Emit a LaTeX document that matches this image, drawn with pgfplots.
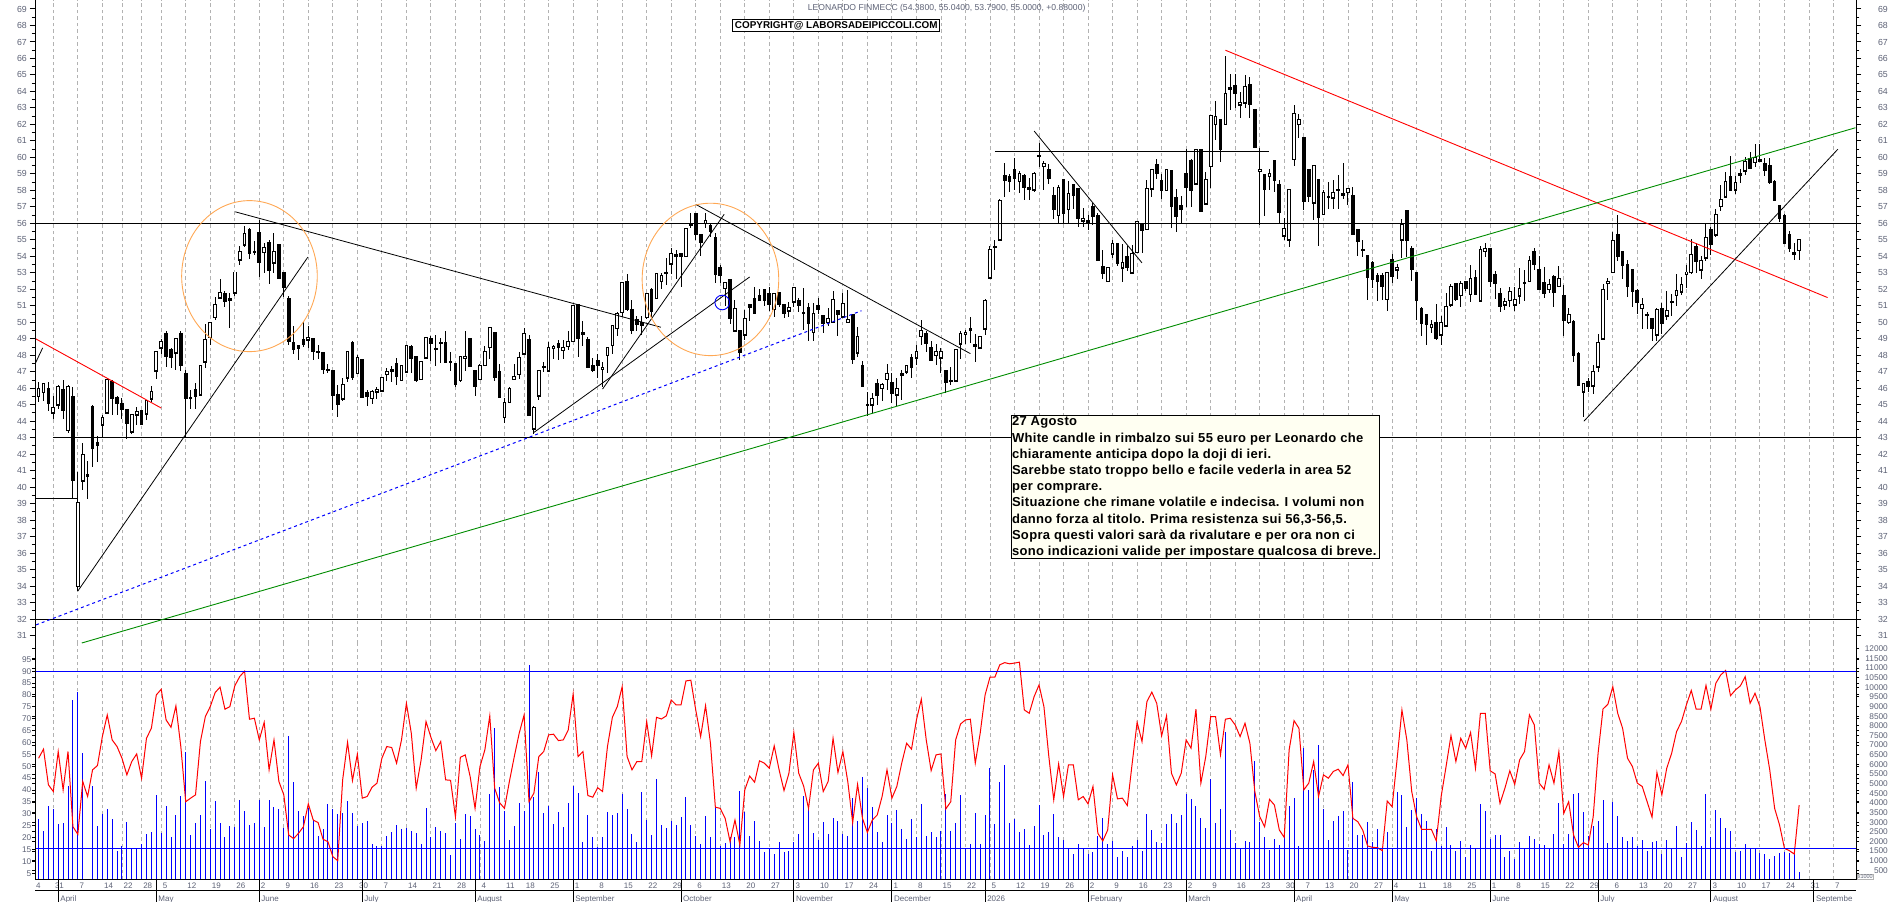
\documentclass[border=0pt]{standalone}
\usepackage{fontspec}
\setmainfont{Liberation Sans}
\usepackage{pgfplots}
\usepackage{pgfplotstable}
\pgfplotsset{compat=1.18}
\definecolor{ticklab}{rgb}{0.36,0.38,0.46}
\definecolor{gridc}{rgb}{0.70,0.70,0.70}
\definecolor{ivory}{rgb}{1,1,0.95}
\definecolor{orangec}{rgb}{1,0.66,0.33}
\definecolor{greenc}{rgb}{0,0.55,0}
\pgfplotstableread{
i o h l c
0 45.5 46.4 45.15 46.0
1 45.75 46.3 45.25 46.3
2 46.0 46.35 44.65 45.05
3 44.5 45.5 44.15 44.85
4 45.0 46.2 44.75 46.1
5 45.9 46.5 44.15 44.65
6 43.45 46.2 43.3 46.1
7 45.5 46.05 39.35 40.4
8 34.0 40.9 33.7 39.05
9 40.4 42.7 39.8 42.0
10 40.75 41.6 39.3 40.65
11 44.9 45.0 41.2 42.35
12 42.7 43.1 41.5 42.55
13 43.8 44.4 43.0 44.25
14 44.5 46.6 44.5 46.55
15 46.4 46.5 44.4 45.4
16 45.45 45.55 44.35 45.1
17 45.1 45.4 44.15 44.7
18 44.7 44.7 42.95 43.85
19 43.35 44.4 43.2 44.4
20 44.4 44.85 43.8 44.6
21 44.65 44.65 43.75 43.8
22 44.45 45.3 44.05 45.25
23 45.35 46.15 45.15 45.8
24 47.05 48.2 46.55 48.2
25 48.45 49.0 48.05 48.85
26 49.3 49.5 47.3 47.95
27 48.35 48.45 47.2 47.85
28 48.15 49.05 47.1 49.0
29 49.3 49.5 47.05 47.4
30 46.9 47.1 43.05 45.4
31 45.45 45.9 44.75 45.4
32 45.9 46.3 44.75 45.5
33 45.6 47.4 45.55 47.35
34 47.6 49.9 47.25 48.95
35 49.1 50.0 48.6 50.0
36 50.3 51.55 50.15 51.1
37 51.5 52.65 51.45 51.8
38 51.75 51.9 50.95 51.25
39 51.45 51.8 49.65 51.35
40 51.8 53.05 51.6 53.05
41 53.8 54.6 53.45 54.3
42 54.7 55.85 54.55 55.4
43 55.65 55.7 53.85 54.15
44 54.3 54.9 54.1 54.25
45 55.45 56.2 52.75 53.65
46 54.25 54.8 53.0 54.55
47 54.85 55.0 52.35 53.15
48 53.6 55.4 53.0 54.3
49 54.7 54.75 52.6 52.65
50 53.0 53.0 51.55 52.1
51 51.45 51.6 48.65 48.85
52 48.8 49.75 48.05 48.35
53 48.6 48.6 47.7 48.4
54 48.95 50.0 48.5 48.65
55 48.95 49.75 48.45 49.1
56 49.0 49.0 47.7 48.25
57 48.2 48.65 47.8 48.15
58 48.15 48.2 46.85 47.15
59 47.15 47.45 46.9 47.05
60 47.05 47.05 44.7 45.55
61 45.6 46.2 44.25 45.0
62 45.35 46.6 45.2 46.25
63 46.65 48.25 46.4 48.25
64 48.8 48.85 46.5 46.65
65 46.9 48.0 46.9 47.85
66 47.75 47.8 45.4 45.45
67 45.75 45.9 44.95 45.5
68 45.4 45.9 45.05 45.8
69 45.8 46.1 45.35 45.9
70 45.85 46.65 45.8 46.65
71 46.85 47.2 46.45 47.0
72 47.15 47.35 46.35 47.0
73 47.5 47.85 46.2 46.7
74 46.5 47.4 46.45 47.35
75 47.0 48.6 47.0 48.6
76 48.55 48.6 46.95 47.8
77 47.95 47.95 46.4 46.45
78 46.55 47.6 46.55 47.6
79 47.85 49.1 47.8 49.1
80 49.0 49.15 47.65 48.7
81 48.4 49.2 47.35 48.35
82 48.75 49.05 47.55 48.7
83 48.75 49.5 47.55 47.55
84 47.65 48.2 47.05 47.55
85 47.5 47.5 46.1 46.2
86 46.5 47.95 46.35 47.9
87 47.85 49.5 47.05 47.95
88 49.0 49.0 47.3 47.3
89 47.1 47.1 45.5 46.1
90 46.55 47.5 46.5 47.4
91 47.4 48.55 47.4 48.25
92 48.5 49.7 47.75 49.7
93 49.4 49.4 46.45 46.65
94 47.0 47.5 45.45 45.45
95 44.25 45.4 43.9 45.15
96 45.15 46.1 45.15 46.0
97 46.55 47.45 46.55 46.7
98 46.85 48.2 46.55 47.85
99 48.1 49.65 48.0 49.35
100 48.95 49.2 44.3 44.35
101 43.55 44.9 43.25 44.85
102 45.55 47.05 45.3 47.05
103 47.3 47.6 47.0 47.25
104 47.05 48.8 47.0 48.5
105 48.45 48.65 47.8 48.55
106 48.7 48.95 47.7 48.45
107 48.3 48.95 47.75 48.45
108 48.55 49.5 48.3 48.85
109 48.85 51.0 48.8 51.0
110 51.05 51.05 47.9 49.0
111 49.4 50.05 48.55 49.25
112 48.95 49.1 47.25 47.25
113 47.35 47.85 47.0 47.1
114 47.7 48.1 46.6 47.4
115 47.15 47.6 46.1 47.25
116 48.0 48.45 46.95 48.45
117 48.6 49.8 48.05 49.8
118 49.65 50.65 49.15 50.55
119 50.6 52.45 50.3 52.4
120 52.45 52.95 50.7 50.75
121 50.75 51.35 49.3 49.5
122 50.15 50.4 49.45 49.85
123 50.0 50.4 49.2 49.8
124 50.3 51.75 50.2 51.75
125 52.0 52.1 50.35 50.65
126 51.45 53.0 51.45 52.95
127 52.5 53.0 52.0 52.85
128 53.05 53.9 52.25 52.95
129 53.55 54.5 52.95 54.15
130 54.1 54.4 52.65 54.0
131 54.2 54.2 52.15 54.0
132 54.0 55.7 53.95 55.7
133 55.95 56.6 55.7 55.85
134 56.6 56.6 55.0 55.35
135 55.35 55.35 54.0 54.85
136 56.0 56.6 55.7 56.2
137 55.85 56.0 55.2 55.5
138 55.15 55.4 52.4 52.9
139 53.3 53.5 52.4 52.85
140 52.05 52.4 51.0 52.4
141 52.6 52.6 49.9 50.25
142 49.5 51.35 49.5 50.85
143 49.5 49.5 47.7 48.15
144 49.25 50.75 48.9 50.25
145 51.05 51.05 50.1 50.9
146 51.45 52.15 50.55 50.55
147 51.65 52.0 51.3 51.35
148 52.0 52.0 51.0 51.3
149 51.75 52.15 50.7 51.05
150 50.8 51.75 50.3 51.75
151 51.8 51.8 50.9 51.1
152 51.05 51.05 50.25 50.55
153 50.7 51.25 50.35 50.9
154 51.25 52.15 50.9 52.1
155 51.3 51.45 50.65 51.0
156 50.6 52.1 49.55 50.55
157 50.9 51.2 48.85 49.95
158 49.4 51.15 48.85 50.55
159 51.0 51.5 50.5 50.75
160 50.4 50.4 49.35 49.95
161 50.0 50.85 49.8 50.25
162 50.0 51.9 50.0 51.4
163 50.7 50.7 49.15 50.45
164 50.35 51.8 50.3 51.15
165 50.0 51.95 50.0 50.15
166 50.45 50.5 47.5 47.75
167 48.15 49.7 47.9 49.15
168 47.4 47.65 46.1 46.1
169 45.02 45.75 44.3 44.98
170 45.0 45.7 44.5 45.4
171 46.3 46.55 45.0 45.55
172 46.0 46.3 45.2 46.2
173 46.55 47.5 45.9 46.9
174 46.35 46.9 45.1 45.7
175 45.6 46.6 44.9 46.0
176 46.9 47.1 45.3 46.8
177 47.0 47.4 46.85 47.4
178 47.85 48.1 46.6 47.25
179 47.85 48.6 47.4 48.2
180 49.15 50.15 48.6 49.5
181 49.3 49.45 48.2 48.7
182 48.45 48.85 47.7 47.7
183 48.0 48.7 47.4 48.25
184 47.85 48.45 46.9 48.2
185 47.05 47.1 45.7 46.35
186 46.5 47.3 46.2 46.4
187 46.45 48.35 46.4 48.35
188 48.7 49.45 47.75 49.3
189 49.3 49.55 48.7 49.4
190 49.6 50.35 48.75 49.5
191 48.65 49.3 47.6 48.55
192 48.45 49.15 48.4 49.15
193 49.6 51.4 49.25 51.3
194 52.7 54.6 52.7 54.4
195 54.55 55.0 53.2 54.6
196 55.0 57.45 55.0 57.4
197 58.9 59.65 57.6 58.6
198 58.85 59.0 57.9 58.55
199 59.25 59.95 58.0 58.7
200 58.55 59.2 57.85 59.0
201 58.9 59.0 57.4 58.15
202 58.15 58.75 57.4 58.05
203 58.05 59.1 57.9 59.0
204 60.1 60.9 59.4 60.05
205 59.45 59.8 58.05 59.6
206 59.25 59.6 58.4 58.7
207 57.7 58.2 56.25 56.85
208 56.5 58.3 56.0 58.15
209 58.65 58.65 56.0 56.6
210 56.85 58.55 56.0 57.8
211 58.35 58.4 56.9 57.7
212 58.1 58.15 55.75 56.3
213 56.15 56.95 55.8 56.3
214 56.15 56.5 55.6 56.05
215 57.0 57.25 55.9 56.4
216 56.5 56.6 53.75 53.75
217 53.4 54.4 52.6 52.95
218 52.5 53.3 52.45 53.3
219 54.15 55.0 53.9 54.75
220 54.75 54.75 53.4 53.55
221 53.3 54.75 52.45 53.65
222 54.0 54.65 53.1 53.3
223 53.0 54.7 53.0 54.15
224 54.25 56.15 54.2 56.1
225 55.95 55.95 54.2 55.55
226 55.65 58.6 55.6 58.1
227 58.1 59.3 57.6 59.25
228 59.55 59.9 58.7 59.0
229 58.6 59.0 57.45 58.0
230 58.0 59.3 57.95 59.25
231 59.2 59.2 55.7 57.0
232 57.55 58.1 55.5 56.4
233 57.1 57.65 56.0 56.85
234 59.0 60.5 57.0 58.15
235 59.8 59.9 57.0 58.0
236 58.4 60.5 58.4 60.45
237 60.45 60.5 56.7 56.7
238 57.2 59.1 57.2 58.65
239 59.45 62.6 58.15 62.55
240 62.0 63.4 61.05 62.5
241 62.3 62.35 59.75 60.45
242 62.0 66.15 62.0 63.9
243 64.25 65.05 62.9 64.1
244 64.35 65.05 63.0 63.85
245 63.2 63.95 62.4 63.35
246 63.3 65.0 63.0 64.3
247 64.45 64.85 62.4 63.2
248 62.9 62.9 60.6 60.6
249 59.15 60.6 55.9 59.25
250 58.95 59.0 56.45 58.05
251 58.85 59.3 58.0 59.0
252 59.8 59.85 57.9 58.6
253 58.35 58.65 55.95 56.65
254 55.25 56.3 55.0 55.7
255 55.0 58.05 54.55 58.05
256 59.9 63.2 59.45 62.65
257 62.0 62.65 61.2 62.3
258 61.2 61.25 56.8 57.3
259 59.25 59.25 57.3 57.65
260 57.25 59.55 56.2 59.5
261 58.65 58.7 54.65 56.35
262 56.55 58.05 56.5 57.9
263 57.65 58.5 56.9 57.55
264 57.55 58.6 56.85 57.9
265 58.05 58.95 56.9 58.0
266 57.8 59.65 57.5 57.7
267 57.9 58.1 57.1 58.1
268 57.7 58.2 55.35 55.35
269 55.6 55.6 54.05 54.9
270 54.4 55.0 53.95 54.35
271 54.05 54.1 51.35 52.7
272 53.6 53.7 52.05 52.6
273 52.85 53.0 51.3 52.45
274 52.85 53.0 51.35 52.15
275 51.4 53.0 50.7 53.0
276 53.8 54.15 52.4 52.8
277 53.2 53.55 52.6 53.35
278 55.0 56.25 53.9 55.95
279 56.75 56.75 53.95 54.95
280 54.5 54.6 52.5 53.2
281 53.0 53.0 50.15 51.3
282 50.85 50.95 49.15 49.95
283 50.45 50.5 48.6 49.85
284 49.7 50.15 49.35 49.85
285 50.0 51.1 48.95 49.0
286 49.25 50.4 48.6 50.0
287 49.8 51.8 49.7 50.95
288 51.05 52.35 50.9 52.15
289 52.35 52.35 51.3 51.4
290 51.65 52.5 50.95 52.35
291 52.5 52.5 51.9 52.05
292 51.7 53.5 51.25 52.65
293 52.7 53.15 51.7 51.7
294 51.3 54.65 51.25 54.4
295 54.3 54.8 53.95 54.45
296 54.5 54.5 52.15 52.45
297 52.9 53.1 51.4 52.35
298 51.75 52.05 50.65 50.95
299 51.05 51.5 50.75 51.25
300 51.35 52.15 50.95 51.85
301 51.05 52.15 50.7 51.4
302 51.6 53.3 51.1 52.05
303 52.4 53.15 51.3 52.35
304 52.5 54.05 52.5 53.75
305 54.3 54.5 53.15 53.5
306 53.2 54.05 52.0 52.0
307 52.4 53.35 51.5 51.75
308 52.0 52.6 51.75 52.3
309 52.75 52.85 50.95 51.8
310 52.2 53.4 52.2 52.65
311 51.6 52.25 49.15 50.1
312 50.0 50.85 49.9 50.45
313 50.05 50.15 47.6 48.0
314 48.1 48.2 46.15 46.15
315 45.8 46.3 44.25 46.3
316 46.4 46.65 45.75 46.1
317 46.15 47.4 45.65 47.0
318 47.3 49.3 47.0 48.8
319 49.0 52.35 49.0 52.0
320 52.4 52.7 51.35 52.5
321 53.05 55.5 53.0 54.95
322 55.3 56.5 53.7 54.0
323 54.3 54.35 52.6 53.45
324 53.5 53.8 51.55 52.2
325 53.2 53.25 50.95 51.85
326 51.9 52.0 50.5 51.2
327 50.85 51.5 49.6 51.05
328 50.45 50.65 49.6 50.4
329 50.2 50.2 48.85 49.6
330 49.25 50.85 48.85 50.8
331 50.85 51.2 49.3 49.95
332 50.4 51.9 50.15 50.7
333 51.25 51.7 50.4 51.2
334 51.65 52.9 51.0 51.9
335 51.85 52.75 51.65 52.3
336 52.9 53.5 52.1 53.05
337 53.05 55.05 52.95 54.1
338 54.6 54.8 53.0 53.7
339 53.2 54.05 52.65 53.75
340 53.9 56.05 53.7 55.15
341 55.65 55.8 54.1 54.7
342 55.3 56.9 55.15 56.55
343 57.05 58.3 56.75 57.45
344 57.6 59.1 57.55 58.55
345 58.85 60.1 57.95 58.0
346 58.05 58.9 57.8 58.5
347 59.05 59.3 58.45 58.9
348 59.2 60.0 58.95 59.75
349 59.95 60.3 59.3 59.3
350 59.7 60.8 59.4 60.0
351 59.9 60.8 59.7 59.75
352 59.65 59.95 58.9 59.2
353 59.5 59.95 58.4 58.45
354 58.55 58.6 57.4 57.4
355 57.1 57.1 56.1 56.3
356 56.45 56.55 54.8 54.8
357 55.3 55.55 54.25 54.45
358 54.25 54.8 53.75 54.12
359 54.38 55.04 53.79 55.0
}\cand
\pgfplotstableread{
i v
0 3183
1 2560
2 3858
3 3702
4 2924
5 2976
6 4861
7 9359
8 9775
9 6609
10 0
11 4896
12 2820
13 3443
14 3702
15 3183
16 1522
17 1782
18 3028
19 1661
20 1626
21 1886
22 2405
23 2509
24 4429
25 2457
26 3858
27 2249
28 3391
29 4377
30 6660
31 2353
32 2976
33 3391
34 5155
35 2664
36 4117
37 2976
38 2249
39 2820
40 2768
41 4169
42 3598
43 2872
44 2976
45 4169
46 2768
47 4169
48 3806
49 3702
50 2716
51 7491
52 5104
53 3598
54 3339
55 3737
56 3131
57 2301
58 2664
59 3962
60 3702
61 3443
62 3495
63 4117
64 3495
65 2820
66 2976
67 3079
68 1886
69 1782
70 1782
71 2301
72 2509
73 2872
74 2664
75 2716
76 2560
77 2457
78 1886
79 3754
80 2214
81 2768
82 2560
83 2457
84 1315
85 2976
86 2145
87 3443
88 3339
89 2664
90 2353
91 2041
92 4481
93 7906
94 4844
95 3598
96 2093
97 2820
98 4014
99 3598
100 11176
101 4325
102 5623
103 3495
104 3858
105 2924
106 3547
107 2768
108 4014
109 4896
110 4533
111 1990
112 3391
113 2249
114 1730
115 2249
116 3547
117 3391
118 3495
119 4481
120 3702
121 2405
122 1990
123 4585
124 3131
125 2353
126 5259
127 2872
128 2716
129 3079
130 2872
131 3287
132 4325
133 2872
134 2301
135 1886
136 3339
137 2249
138 3806
139 1747
140 1938
141 2249
142 2249
143 4636
144 3547
145 2301
146 3079
147 2041
148 1470
149 1661
150 1367
151 1990
152 1470
153 1522
154 1990
155 2405
156 4377
157 3702
158 2457
159 2093
160 3028
161 2405
162 3235
163 3079
164 2405
165 2301
166 4273
167 3079
168 5363
169 4792
170 3806
171 2509
172 1990
173 3391
174 2976
175 3650
176 2664
177 2145
178 3183
179 2249
180 3962
181 2301
182 2509
183 2249
184 2560
185 4481
186 2560
187 2976
188 4429
189 1678
190 1886
191 3495
192 1886
193 3391
194 5830
195 2924
196 5104
197 5986
198 2976
199 3183
200 2509
201 2664
202 1834
203 2820
204 3910
205 2353
206 2509
207 3443
208 2249
209 2093
210 1661
211 1367
212 1886
213 1661
214 1367
215 1470
216 2301
217 3235
218 1886
219 2041
220 1211
221 1522
222 1211
223 1782
224 2093
225 1522
226 3443
227 2612
228 1990
229 1938
230 2924
231 3443
232 2976
233 3391
234 4481
235 4221
236 3858
237 3235
238 2716
239 5259
240 2976
241 3702
242 7699
243 2612
244 1938
245 1661
246 2041
247 1990
248 6193
249 3028
250 2249
251 1574
252 2145
253 1834
254 2249
255 3858
256 4273
257 1782
258 6868
259 4688
260 5726
261 7024
262 3702
263 2093
264 3079
265 3339
266 3598
267 1574
268 5104
269 2353
270 2353
271 3028
272 1990
273 2664
274 1488
275 2509
276 1661
277 4585
278 4429
279 2768
280 3650
281 4273
282 3443
283 3079
284 1522
285 2664
286 1782
287 2768
288 1834
289 1522
290 2041
291 1211
292 1834
293 1661
294 3962
295 3598
296 2145
297 2353
298 2353
299 1211
300 1522
301 1107
302 1990
303 1661
304 2301
305 2145
306 1886
307 1834
308 1626
309 2405
310 4014
311 1886
312 2405
313 4481
314 4533
315 3547
316 2301
317 2820
318 3079
319 4169
320 1938
321 4066
322 3339
323 2249
324 2041
325 2249
326 1782
327 2093
328 1488
329 1990
330 2041
331 1367
332 2093
333 1661
334 2820
335 1211
336 1938
337 3028
338 2612
339 1782
340 4481
341 2249
342 3650
343 3235
344 2716
345 2560
346 1470
347 1522
348 1886
349 1661
350 1661
351 1419
352 1367
353 1107
354 1263
355 1419
356 1470
357 1419
358 1367
359 432
}\vol
\pgfplotstableread{
i s
0 53.4
1 57.2
2 42.2
3 39.4
4 56.2
5 40.1
6 56.2
7 24.6
8 21.4
9 43.6
10 37.3
11 48.5
12 50.3
13 62.5
14 71.6
15 61.1
16 58.3
17 53.4
18 46.4
19 52
20 55.2
21 45
22 61.8
23 66
24 80
25 82.4
26 69.5
27 66.4
28 75.4
29 58.3
30 35.1
31 36.6
32 38
33 60.4
34 70.9
35 75.1
36 81
37 83.3
38 74
39 75.1
40 83.8
41 87.7
42 90
43 69.8
44 70.2
45 61.1
46 68.5
47 48.5
48 61.1
49 43.6
50 38
51 21.1
52 19.6
53 21.8
54 24.6
55 34.2
56 27.4
57 26.3
58 19.3
59 18.3
60 12
61 10.3
62 44.3
63 60.1
64 44
65 55.1
66 36.6
67 37.3
68 41.2
69 42.9
70 53.4
71 58.3
72 57.9
73 51.3
74 61.1
75 76.5
76 63.9
77 40.8
78 52.7
79 68.8
80 62.2
81 56.6
82 60.4
83 44.3
84 44.1
85 28.8
86 53.8
87 54.8
88 45.7
89 32.3
90 49.9
91 56.9
92 71.2
93 40.8
94 34.7
95 32.3
96 43.6
97 54.1
98 63.9
99 71.6
100 35.1
101 38.7
102 54.1
103 56.2
104 63.2
105 63.5
106 60.8
107 61.1
108 65.3
109 80.4
110 54.1
111 56.2
112 37.7
113 37
114 41
115 39.4
116 58.3
117 70.6
118 75.1
119 83.5
120 54.1
121 48.5
122 52
123 52
124 68.8
125 54.4
126 70.6
127 69.9
128 71.2
129 77.9
130 75.8
131 75.8
132 85.9
133 86.2
134 73.7
135 62.5
136 75.5
137 59.7
138 32.8
139 32.3
140 28.1
141 18.3
142 27.4
143 16.9
144 40.1
145 45.9
146 43.3
147 52.3
148 51.3
149 49.2
150 58.6
151 48.5
152 39.8
153 47.1
154 64.2
155 47.1
156 41.7
157 32.3
158 48.5
159 51.3
160 39.4
161 43.6
162 61.8
163 47.4
164 56.2
165 43.6
166 26.3
167 42.4
168 28.1
169 22.2
170 27.4
171 29.5
172 37.3
173 48.5
174 36.6
175 41.5
176 51.3
177 59.7
178 57.2
179 69.5
180 78.2
181 61.1
182 48.2
183 54.8
184 55.2
185 32.1
186 35.1
187 61.1
188 67.8
189 69.5
190 69.8
191 51.3
192 63.9
193 80
194 87.5
195 87.5
196 92.7
197 93.6
198 93.1
199 93.4
200 93.8
201 73.7
202 72.3
203 79.3
204 84.2
205 75.1
206 54.1
207 35.9
208 51
209 37.3
210 50.6
211 50.6
212 35.9
213 37.3
214 34.2
215 41.5
216 21.8
217 18.6
218 23.2
219 46.4
220 36.3
221 36.6
222 33.5
223 51.3
224 68.5
225 60.4
226 77.2
227 81.2
228 76.5
229 62.8
230 71.2
231 47.1
232 42.2
233 47.1
234 61.1
235 57.6
236 74
237 42.9
238 54.1
239 70.9
240 70.9
241 54.8
242 69.8
243 70.2
244 67.4
245 62.5
246 68.1
247 59.7
248 39.4
249 28.8
250 24.6
251 36.1
252 33.7
253 23.2
254 20.1
255 56.9
256 69.2
257 66
258 40.1
259 42.9
260 52
261 37.3
262 46.4
263 45
264 47.8
265 48.8
266 46.1
267 50.6
268 28.1
269 26.7
270 23.2
271 16.5
272 15.9
273 15.8
274 14.5
275 35.4
276 33
277 52.7
278 73.7
279 61.1
280 39.4
281 28.8
282 23.5
283 23.5
284 23.5
285 18.7
286 37.3
287 49.9
288 62.9
289 52
290 61.8
291 57.6
292 64.2
293 49.2
294 72.3
295 72.3
296 48.1
297 46.8
298 34.4
299 40.8
300 48.1
301 42.4
302 52.7
303 56.2
304 71.6
305 67.4
306 42.9
307 40.3
308 50.6
309 42.9
310 56.2
311 30.2
312 35.1
313 21.1
314 15.9
315 17.9
316 16.9
317 28.8
318 55.5
319 74.1
320 76.1
321 83.5
322 72.3
323 66
324 53.4
325 49.9
326 42.9
327 41.5
328 35.1
329 28.6
330 47.4
331 38
332 49.2
333 55.5
334 64.6
335 68.8
336 75.8
337 81.9
338 74
339 74
340 84
341 74
342 84.9
343 88.4
344 90.3
345 79.7
346 82.1
347 83.8
348 87.7
349 76.5
350 80.7
351 75.1
352 61.1
353 48.5
354 32.3
355 25.3
356 15.5
357 14.5
358 13.1
359 33.7
}\osc
\def\weekticks{3,8,13,17,21,25,30,35,40,45,50,55,60,65,70,75,80,85,90,95,99,104,109,114,119,124,129,134,139,144,149,154,159,164,169,174,179,184,189,194,199,204,209,214,219,224,229,234,239,244,249,254,258,262,267,272,276,281,286,291,296,301,306,311,316,321,326,331,336,341,346,351,356,361,366}
\pgfplotsset{
  base/.style={scale only axis,width=1821pt,xmin=-0.734,xmax=370.6,
    axis line style={draw=none},
    xtick style={draw=none},
    ytick align=outside,xtick align=inside,
    ytick style={black,line width=1pt},
    minor tick style={black,line width=1pt},
    /pgf/number format/assume math mode=true,
    /pgf/number format/1000 sep={},
    scaled y ticks=false,
    legend style={draw=none},
  },
  pricebase/.style={base,at={(35pt,258pt)},anchor=south west,height=644pt,ymin=30.49,ymax=69.546,
    ytick={31,32,...,69},minor y tick num=1,major tick length=5pt,minor tick length=3pt,
    y tick label style={font=\fontsize{8.8}{9}\selectfont,text=ticklab,inner sep=0pt}},
  lowbase/.style={base,at={(35pt,22pt)},anchor=south west,height=236pt,major tick length=3pt,
    minor tick length=2pt,y tick label style={font=\fontsize{8.3}{9}\selectfont,text=ticklab,inner sep=0pt}},
}
\begin{document}
\begin{tikzpicture}[x=1pt,y=1pt]
\path[use as bounding box] (0,0) rectangle (1890pt,902pt);
% price panel
\begin{axis}[pricebase,yticklabel pos=left,
  xtick/.expand once=\weekticks,xticklabels={},xmajorgrids=true,
  grid style={draw=gridc,dash pattern=on 3.5pt off 3pt,line width=0.9pt},
  y tick label style={anchor=east,xshift=-3pt}]
\addplot[draw=none,mark=none,forget plot,error bars/.cd,y dir=both,y explicit,error mark=none,
  error bar style={draw=black,line width=1pt,solid}]
  table[x=i,y=o,y error plus expr={\thisrow{h}-\thisrow{o}},y error minus expr={\thisrow{o}-\thisrow{l}}]{\cand};
\addplot[draw=none,mark=none,forget plot,error bars/.cd,y dir=both,y explicit,error mark=none,
  error bar style={draw=black,line width=3.7pt,line cap=butt,solid}]
  table[x=i,y=o,y error plus expr={max(\thisrow{c}-\thisrow{o},0)+0.03},y error minus expr={max(\thisrow{o}-\thisrow{c},0)+0.03}]{\cand};
\addplot[draw=none,mark=none,forget plot,error bars/.cd,y dir=plus,y explicit,error mark=none,
  error bar style={draw=white,line width=1.7pt,line cap=butt,solid}]
  table[x=i,y expr={\thisrow{o}+0.03},y error plus expr={max(\thisrow{c}-\thisrow{o}-0.06,0)}]{\cand};
% horizontal levels
\addplot[black,line width=1pt] coordinates {(-0.734,56)(370.6,56)};
\addplot[black,line width=1pt] coordinates {(3,43)(370.6,43)};
\addplot[black,line width=1pt] coordinates {(-0.734,32)(370.6,32)};
\addplot[black,line width=1pt] coordinates {(-0.734,39.3)(8,39.3)};
\addplot[black,line width=1pt] coordinates {(195,60.35)(250.9,60.35)};
% trend lines
\addplot[red,line width=0.9pt] coordinates {(-0.6,49)(25,44.8)};
\addplot[red,line width=0.9pt] coordinates {(242,66.5)(364.8,51.5)};
\addplot[black,line width=0.8pt] coordinates {(-0.6,47.55)(0.83,48.45)};
\addplot[black,line width=0.8pt] coordinates {(8,33.7)(54.9,53.95)};
\addplot[black,line width=0.8pt] coordinates {(40.1,56.7)(126.9,49.7)};
\addplot[black,line width=0.8pt] coordinates {(115,45.95)(139.8,56.55)};
\addplot[black,line width=0.8pt] coordinates {(100.9,43.3)(145,52.75)};
\addplot[black,line width=0.8pt] coordinates {(134,57.15)(190,48.1)};
\addplot[black,line width=0.8pt] coordinates {(203,61.6)(225,53.6)};
\addplot[black,line width=0.8pt] coordinates {(315.1,44)(366.9,60.5)};
\addplot[blue,line width=1pt,dash pattern=on 3pt off 3pt] coordinates {(-0.5,31.65)(167.8,50.7)};
\addplot[greenc,line width=0.9pt] coordinates {(8.8,30.55)(370.5,61.8)};
\draw[orangec,line width=0.9pt] (axis cs:43,52.8) ellipse [x radius=67.8pt,y radius=75.5pt];
\draw[orangec,line width=0.9pt] (axis cs:137,52.6) ellipse [x radius=68.3pt,y radius=76.2pt];
\draw[blue,line width=0.9pt] (axis cs:139.4,51.2) circle [radius=7.3pt];
\end{axis}
\begin{axis}[pricebase,yticklabel pos=right,xtick=\empty,
  y tick label style={anchor=east,xshift=27pt}]
\addplot[draw=none,forget plot] coordinates {(0,40)};
\end{axis}
% lower panel
\begin{axis}[lowbase,ymin=0,ymax=12247,yticklabel pos=right,
  xtick/.expand once=\weekticks,xticklabels={},xmajorgrids=true,
  grid style={draw=gridc,dash pattern=on 3.5pt off 3pt,line width=0.9pt},
  ytick={500,1000,...,12000},
  y tick label style={anchor=east,xshift=29pt}]
\addplot[ycomb,blue,line width=1pt,mark=none] table[x=i,y=v]{\vol};
\end{axis}
\begin{axis}[lowbase,ymin=2.18,ymax=101.43,yticklabel pos=left,
  ytick={5,10,...,95},
  xtick/.expand once=\weekticks,
  xticklabels={31,7,14,22,28,5,12,19,26,2,9,16,23,30,7,14,21,28,4,11,18,25,1,8,15,22,29,6,13,20,27,3,10,17,24,1,8,15,22,5,12,19,26,2,9,16,23,2,9,16,23,30,7,13,20,27,4,11,18,25,1,8,15,22,29,6,13,20,27,3,10,17,24,31,7},
  x tick label style={font=\fontsize{8}{9}\selectfont,text=ticklab,anchor=north west,inner sep=0pt,xshift=1.5pt,yshift=-2.5pt},
  extra x ticks={4,24,45,66,89,109,131,154,174,193,214,234,256,276,296,318,341,362},
  extra x tick labels={April,May,June,July,August,September,October,November,December,2026,February,March,April,May,June,July,August,Septembe},
  extra x tick style={grid=none,tick label style={font=\fontsize{8.6}{9}\selectfont,yshift=-13.5pt,xshift=0.5pt}},
  y tick label style={anchor=east,xshift=-0.5pt}]
\addplot[red,line width=1pt,mark=none] table[x=i,y=s]{\osc};
\addplot[blue,line width=1.1pt] coordinates {(-0.734,90)(370.6,90)};
\addplot[blue,line width=1.1pt] coordinates {(-0.734,15.4)(370.6,15.4)};
\end{axis}
% frame
\draw[black,line width=1pt] (35pt,22pt) -- (35pt,902pt);
\draw[black,line width=1pt] (1856pt,22pt) -- (1856pt,902pt);
\draw[black,line width=1pt] (35pt,22pt) -- (1856pt,22pt);
\draw[black,line width=1pt] (35pt,11pt) -- (1856pt,11pt);
\foreach \m in {4,24,45,66,89,109,131,154,174,193,214,234,256,276,296,318,341,362}
  \draw[black,line width=1pt] ({38.6+4.904*\m},0) -- ({38.6+4.904*\m},22);
\node[anchor=west,inner sep=0pt,font=\fontsize{8}{9}\selectfont,text=ticklab] at (36pt,16pt) {4};
% texts
\node[anchor=west,inner sep=0pt,font=\fontsize{8.6}{10}\selectfont,text=ticklab] at (807.7pt,894pt) {LEONARDO FINMECC (54.3800, 55.0400, 53.7900, 55.0000, +0.88000)};
\node[draw=black,line width=1pt,fill=white,anchor=north west,inner sep=0pt,minimum width=207pt,minimum height=12pt,font=\bfseries\fontsize{9.9}{10}\selectfont] at (732.3pt,882.7pt) {COPYRIGHT@ LABORSADEIPICCOLI.COM};
\node[draw=black,line width=1pt,fill=ivory,anchor=north west,inner sep=0pt,minimum width=368.6pt,minimum height=143.6pt] at (1010.7pt,487.3pt) {};
\node[anchor=north west,inner sep=0pt,align=left,font=\bfseries\fontsize{13}{16.2}\selectfont\addfontfeature{LetterSpace=2.5}] at (1011.8pt,485.3pt) {27 Agosto\\White candle in rimbalzo sui 55 euro per Leonardo che\\chiaramente anticipa dopo la doji di ieri.\\Sarebbe stato troppo bello e facile vederla in area 52\\per comprare.\\Situazione che rimane volatile e indecisa. I volumi non\\danno forza al titolo. Prima resistenza sui 56,3-56,5.\\Sopra questi valori sarà da rivalutare e per ora non ci\\sono indicazioni valide per impostare qualcosa di breve.};
\node[draw=gridc,line width=0.5pt,fill=white,anchor=south west,inner sep=0.5pt,font=\fontsize{5.5}{6}\selectfont,text=ticklab] at (1857pt,22.5pt) {x1000};
\end{tikzpicture}
\end{document}
